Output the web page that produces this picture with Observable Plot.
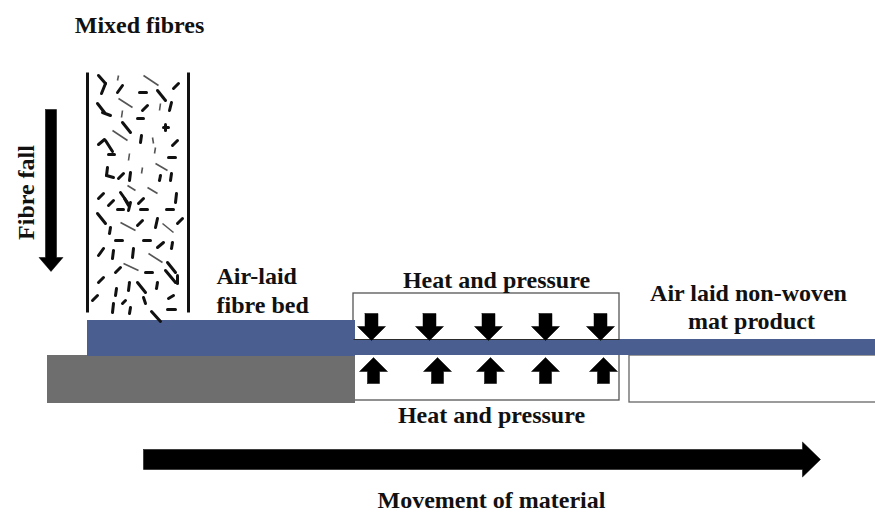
<!DOCTYPE html>
<html>
<head>
<meta charset="utf-8">
<script src="https://cdn.jsdelivr.net/npm/d3@7"></script>
<script src="https://cdn.jsdelivr.net/npm/@observablehq/plot@0.6"></script>
<style>
  html, body { margin: 0; padding: 0; background: white; }
  #chart svg { display: block; }
</style>
</head>
<body>
<div id="chart"></div>
<script>
// ---------- Data (diagram elements, in picture units) ----------
const labels = [
  {text: "Mixed fibres", x: 139, y: 32, anchor: "middle", rotate: 0},
  {text: "Fibre fall", x: 33, y: 192, anchor: "middle", rotate: -90},
  {text: "Air-laid", x: 216, y: 283, anchor: "start", rotate: 0},
  {text: "fibre bed", x: 216, y: 312, anchor: "start", rotate: 0},
  {text: "Heat and pressure", x: 496, y: 287, anchor: "middle", rotate: 0},
  {text: "Heat and pressure", x: 491, y: 422, anchor: "middle", rotate: 0},
  {text: "Air laid non-woven", x: 748, y: 300, anchor: "middle", rotate: 0},
  {text: "mat product", x: 751, y: 328, anchor: "middle", rotate: 0},
  {text: "Movement of material", x: 491, y: 507, anchor: "middle", rotate: 0}
];

// rectangles: [x1, x2, y1, y2]
const fibreBed   = [[87, 355, 320, 356]];
const groundBase = [[47, 355, 355, 403]];
const heatBox    = [[353, 619, 293, 400]];
const productBox = [[629, 880, 355, 402]];
const matStrip   = [[353, 880, 339, 355]];

// column walls: [x, yTop, yBottom]
const columnWalls = [[87, 72, 312], [188, 72, 312]];

// fibres [x1, y1, x2, y2]
const fibresDark = [
  [98,75,105,83],[105,83,101,93],[122,85,117,92],[178,83,173,88],[139,92,146,92],
  [157,90,165,100],[97,103,104,112],[102,112,110,115],[147,105,142,110],[171,102,169,110],
  [137,118,143,118],[122,122,130,132],[163,127,168,127],[165,124,165,130],[141,135,140,142],
  [98,144,104,139],[105,140,112,151],[108,154,114,154],[177,140,172,145],[168,157,175,157],
  [107,167,106,175],[106,175,113,177],[123,173,118,178],[130,172,129,180],[160,175,159,180],
  [171,173,170,180],
  [103,193,98,198],[120,192,127,202],[113,200,108,205],[124,198,128,205],[130,202,128,210],
  [143,198,138,203],[176,193,175,202],[117,209,123,209],[140,209,147,209],[166,209,173,209],
  [97,213,105,223],[142,220,137,225],[157,218,155,227],[182,218,177,223],[110,227,109,233],
  [115,240,122,240],[143,240,150,240],[163,242,157,247],[172,242,171,248],[103,248,98,255],
  [113,250,112,258],[133,248,132,257],[120,267,115,272],[145,272,152,272],[167,262,175,272],
  [165,270,175,282],[177,275,177,283],[103,277,98,282],[129,282,128,290],[137,282,145,292],
  [157,282,156,288],[97,295,92,300],[116,288,115,295],[125,300,122,303],[143,297,145,303],
  [173,295,168,298],[113,303,112,312],[130,307,129,313],[167,309,175,309],[151,311,160,321]
];
const fibresLight = [
  [118,75,117,80],[143,75,158,85],[118,98,132,107],[122,110,121,117],[160,103,159,110],
  [112,130,127,140],[152,137,153,143],[155,147,154,153],[129,153,128,160],[155,163,167,170],
  [142,167,141,173],
  [127,185,135,190],[147,187,157,193],[120,222,135,230],[162,223,173,232],[148,253,162,262],
  [123,263,138,270]
];

// block arrows: centre, start, head base, tip, stem half-width, head half-width
const downArrowsX = [371, 429, 488, 545, 600];
const upArrowsX   = [373, 437, 490, 545, 603];
const pressDown = {start: 313, headBase: 326, tip: 340, stem: 6.5, head: 14};
const pressUp   = {start: 383, headBase: 371, tip: 357, stem: 6, head: 14};
const fallArrow = {x: 50.5, start: 109, headBase: 257, tip: 271, stem: 5.5, head: 12};
const moveArrow = {y: 459, start: 143, headBase: 802, tip: 820, stem: 10, head: 17.5};

// ---------- Build polygons ----------
function vArrow(id, c, a) {
  return [
    [c - a.stem, a.start], [c + a.stem, a.start], [c + a.stem, a.headBase],
    [c + a.head, a.headBase], [c, a.tip], [c - a.head, a.headBase],
    [c - a.stem, a.headBase], [c - a.stem, a.start]
  ].map(([x, y]) => ({id, x, y}));
}
function hArrow(id, c, a) {
  return [
    [a.start, c - a.stem], [a.start, c + a.stem], [a.headBase, c + a.stem],
    [a.headBase, c + a.head], [a.tip, c], [a.headBase, c - a.head],
    [a.headBase, c - a.stem], [a.start, c - a.stem]
  ].map(([x, y]) => ({id, x, y}));
}
const arrowPts = [
  ...downArrowsX.flatMap((c, i) => vArrow("d" + i, c, pressDown)),
  ...upArrowsX.flatMap((c, i) => vArrow("u" + i, c, pressUp)),
  ...vArrow("fall", fallArrow.x, fallArrow),
  ...hArrow("move", moveArrow.y, moveArrow)
];

const toRect = r => ({x1: r[0], x2: r[1], y1: r[2], y2: r[3]});
const toSeg = s => ({x1: s[0], y1: s[1], x2: s[2], y2: s[3]});

const font = "'Liberation Serif', 'Times New Roman', serif";
const textStyle = {fontFamily: font, fontWeight: "bold", fontSize: 24, fill: "#111", lineAnchor: "bottom"};

const chart = Plot.plot({
  width: 875,
  height: 514,
  margin: 0,
  x: {domain: [0, 875], range: [0, 875], axis: null},
  y: {domain: [0, 514], range: [0, 514], axis: null},
  style: {background: "white"},
  marks: [
    Plot.rect(heatBox.map(toRect), {x1: "x1", x2: "x2", y1: "y1", y2: "y2", fill: "white", stroke: "#555", strokeWidth: 1.3}),
    Plot.rect(productBox.map(toRect), {x1: "x1", x2: "x2", y1: "y1", y2: "y2", fill: "white", stroke: "#666", strokeWidth: 1.3}),
    Plot.rect(groundBase.map(toRect), {x1: "x1", x2: "x2", y1: "y1", y2: "y2", fill: "#6e6e6e"}),
    Plot.rect(fibreBed.map(toRect), {x1: "x1", x2: "x2", y1: "y1", y2: "y2", fill: "#4a5f8f"}),
    Plot.rect(matStrip.map(toRect), {x1: "x1", x2: "x2", y1: "y1", y2: "y2", fill: "#4a5f8f"}),
    Plot.link(heatBox.map(r => ({x1: r[0], x2: r[1], y: 339})), {x1: "x1", x2: "x2", y1: "y", y2: "y", stroke: "#2a2a2a", strokeWidth: 1.2}),
    Plot.link(columnWalls.map(w => ({x: w[0], y1: w[1], y2: w[2]})), {x1: "x", x2: "x", y1: "y1", y2: "y2", stroke: "#111", strokeWidth: 3}),
    Plot.link(fibresLight.map(toSeg), {x1: "x1", y1: "y1", x2: "x2", y2: "y2", stroke: "#555", strokeWidth: 1.6}),
    Plot.link(fibresDark.map(toSeg), {x1: "x1", y1: "y1", x2: "x2", y2: "y2", stroke: "#111", strokeWidth: 3, strokeLinecap: "round"}),
    Plot.line(arrowPts, {x: "x", y: "y", z: "id", fill: "black", stroke: "black", strokeWidth: 0.5, curve: "linear"}),
    Plot.text(labels.filter(d => d.rotate === 0 && d.anchor === "middle"), {
      x: "x", y: "y", text: "text", textAnchor: "middle", ...textStyle
    }),
    Plot.text(labels.filter(d => d.rotate === 0 && d.anchor === "start"), {
      x: "x", y: "y", text: "text", textAnchor: "start", ...textStyle
    }),
    Plot.text(labels.filter(d => d.rotate !== 0), {
      x: "x", y: "y", text: "text", rotate: -90, textAnchor: "middle", ...textStyle
    })
  ]
});
document.getElementById("chart").appendChild(chart);
</script>
</body>
</html>
